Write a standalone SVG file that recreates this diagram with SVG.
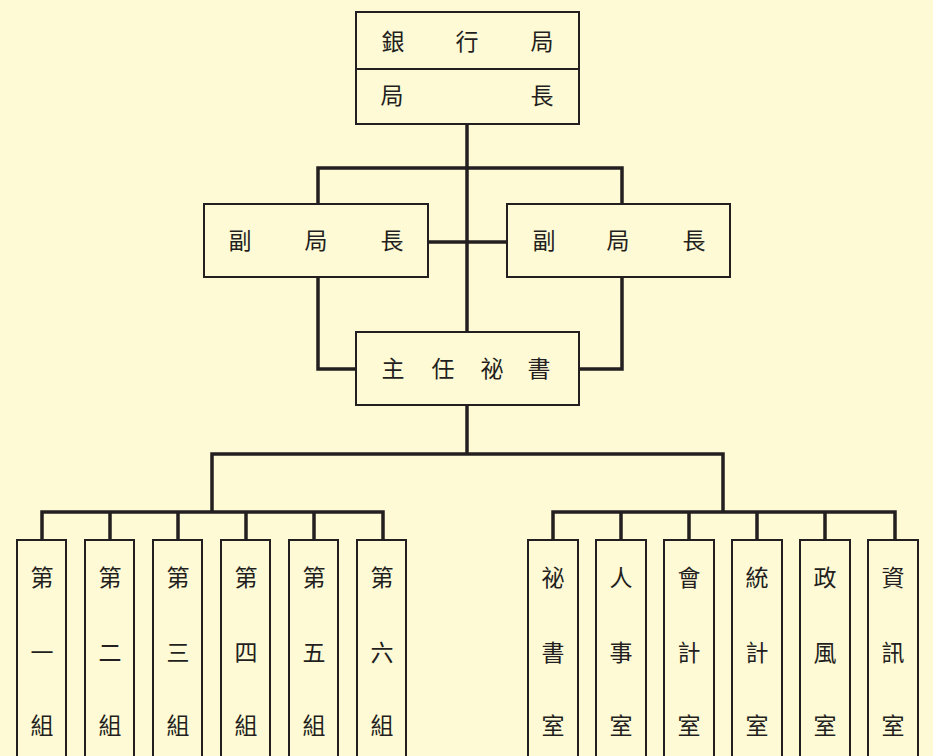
<svg xmlns="http://www.w3.org/2000/svg" width="933" height="756" viewBox="0 0 933 756">
  <style>
    .box { fill: #fffad6; stroke: #231f20; stroke-width: 2; }
    .wire { fill: none; stroke: #231f20; stroke-width: 3.5; stroke-linejoin: miter; stroke-linecap: butt; }
    text { font-family: "Noto Sans CJK TC", "Noto Sans CJK SC", sans-serif; font-size: 23px; fill: #231f20; text-anchor: middle; dominant-baseline: central; }
  </style>
  <rect x="0" y="0" width="933" height="756" fill="#fffad6"/>

  <!-- connectors -->
  <g id="connectors" class="wire">
    <path d="M467 124 V332"/>
    <path d="M318 204 V168 H622 V204"/>
    <path d="M428 242 H507"/>
    <path d="M318 277 V369 H356"/>
    <path d="M622 277 V369 H579"/>
    <path d="M467 405 V454"/>
    <path d="M212 512 V454 H723 V512"/>
    <path d="M42 540 V512 H383 V540"/>
    <path d="M110 512 V540 M178 512 V540 M246 512 V540 M314 512 V540"/>
    <path d="M553 540 V512 H895 V540"/>
    <path d="M621 512 V540 M689 512 V540 M757 512 V540 M825 512 V540"/>
  </g>

  <!-- top: bureau / director -->
  <g id="bureau">
    <rect class="box" x="356" y="12" width="223" height="112"/>
    <line x1="356" y1="69" x2="579" y2="69" stroke="#231f20" stroke-width="2"/>
    <text x="393" y="40">銀</text>
    <text x="467" y="40">行</text>
    <text x="542" y="40">局</text>
    <text x="392" y="94">局</text>
    <text x="542" y="94">長</text>
  </g>

  <!-- deputy directors -->
  <g id="deputy-left">
    <rect class="box" x="204" y="204" width="224" height="73"/>
    <text x="240" y="239">副</text>
    <text x="316" y="239">局</text>
    <text x="392" y="239">長</text>
  </g>
  <g id="deputy-right">
    <rect class="box" x="507" y="204" width="223" height="73"/>
    <text x="544" y="239">副</text>
    <text x="618" y="239">局</text>
    <text x="694" y="239">長</text>
  </g>

  <!-- chief secretary -->
  <g id="chief-secretary">
    <rect class="box" x="356" y="332" width="223" height="73"/>
    <text x="393" y="367">主</text>
    <text x="443" y="367">任</text>
    <text x="492" y="367">祕</text>
    <text x="539" y="367">書</text>
  </g>

  <!-- groups -->
  <g id="group-1">
    <rect class="box" x="17" y="540" width="49" height="230"/>
    <text x="42" y="576">第</text><text x="42" y="651">一</text><text x="42" y="724">組</text>
  </g>
  <g id="group-2">
    <rect class="box" x="85" y="540" width="49" height="230"/>
    <text x="110" y="576">第</text><text x="110" y="651">二</text><text x="110" y="724">組</text>
  </g>
  <g id="group-3">
    <rect class="box" x="153" y="540" width="49" height="230"/>
    <text x="178" y="576">第</text><text x="178" y="651">三</text><text x="178" y="724">組</text>
  </g>
  <g id="group-4">
    <rect class="box" x="221" y="540" width="49" height="230"/>
    <text x="246" y="576">第</text><text x="246" y="651">四</text><text x="246" y="724">組</text>
  </g>
  <g id="group-5">
    <rect class="box" x="289" y="540" width="49" height="230"/>
    <text x="314" y="576">第</text><text x="314" y="651">五</text><text x="314" y="724">組</text>
  </g>
  <g id="group-6">
    <rect class="box" x="357" y="540" width="49" height="230"/>
    <text x="382" y="576">第</text><text x="382" y="651">六</text><text x="382" y="724">組</text>
  </g>

  <!-- offices -->
  <g id="office-secretariat">
    <rect class="box" x="528" y="540" width="50" height="230"/>
    <text x="553" y="576">祕</text><text x="553" y="651">書</text><text x="553" y="724">室</text>
  </g>
  <g id="office-personnel">
    <rect class="box" x="596" y="540" width="50" height="230"/>
    <text x="621" y="576">人</text><text x="621" y="651">事</text><text x="621" y="724">室</text>
  </g>
  <g id="office-accounting">
    <rect class="box" x="664" y="540" width="50" height="230"/>
    <text x="689" y="576">會</text><text x="689" y="651">計</text><text x="689" y="724">室</text>
  </g>
  <g id="office-statistics">
    <rect class="box" x="732" y="540" width="50" height="230"/>
    <text x="757" y="576">統</text><text x="757" y="651">計</text><text x="757" y="724">室</text>
  </g>
  <g id="office-ethics">
    <rect class="box" x="800" y="540" width="50" height="230"/>
    <text x="825" y="576">政</text><text x="825" y="651">風</text><text x="825" y="724">室</text>
  </g>
  <g id="office-information">
    <rect class="box" x="868" y="540" width="50" height="230"/>
    <text x="893" y="576">資</text><text x="893" y="651">訊</text><text x="893" y="724">室</text>
  </g>
</svg>
